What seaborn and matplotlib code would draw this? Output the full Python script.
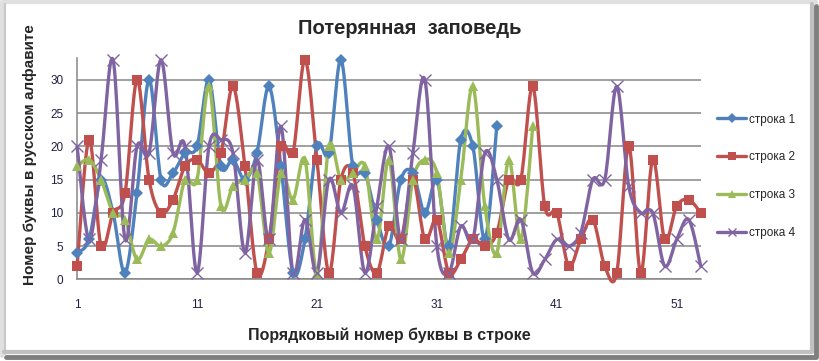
import numpy as np
import pandas as pd
import matplotlib
matplotlib.use("Agg")
import matplotlib.pyplot as plt
from matplotlib.lines import Line2D
import seaborn as sns

# letter numbers (position in the Russian alphabet) for each line of text
row1 = [4, 6, 15, 10, 1, 13, 30, 15, 16, 19, 20, 30, 17, 18, 15, 19, 29, 17, 1, 6,
        20, 19, 33, 17, 16, 9, 5, 15, 16, 10, 15, 5, 21, 20, 6, 23]
row2 = [2, 21, 5, 10, 13, 30, 15, 10, 12, 17, 18, 16, 19, 29, 17, 1, 6, 20, 19, 33,
        18, 1, 15, 16, 5, 1, 8, 6, 15, 6, 9, 1, 3, 6, 5, 7, 15, 15, 29, 11,
        10, 2, 6, 9, 2, 1, 20, 1, 18, 6, 11, 12, 10]
row3 = [17, 18, 15, 10, 9, 3, 6, 5, 7, 15, 15, 29, 11, 14, 15, 16, 4, 16, 12, 18,
        1, 20, 15, 16, 17, 6, 18, 3, 15, 18, 16, 4, 15, 29, 11, 4, 18, 6, 23]
row4 = [20, 6, 18, 33, 6, 20, 19, 33, 19, 20, 1, 20, 21, 19, 4, 18, 6, 23, 1, 9,
        1, 15, 10, 14, 1, 11, 20, 6, 19, 30, 5, 1, 8, 6, 19, 15, 6, 9, 1, 3,
        6, 5, 7, 15, 15, 29, 14, 10, 10, 2, 6, 9, 2]

names = ["строка 1", "строка 2", "строка 3", "строка 4"]
series = [row1, row2, row3, row4]
colors = ["#4F81BD", "#C0504D", "#9BBB59", "#8064A2"]
markers = ["D", "s", "^", "x"]
msizes = [6, 7.5, 7.5, 8]
xticks = [1, 11, 21, 31, 41, 51]


def smooth(y, n=16):
    # excel-like smoothed line (catmull-rom through the points)
    x = np.arange(1, len(y) + 1, dtype=float)
    p = np.column_stack([x, np.asarray(y, dtype=float)])
    p = np.vstack([p[0], p, p[-1]])
    out = []
    t = np.linspace(0, 1, n, endpoint=False)[:, None]
    for i in range(1, len(p) - 2):
        b0 = p[i]
        b1 = p[i] + (p[i + 1] - p[i - 1]) / 6
        b2 = p[i + 1] - (p[i + 2] - p[i]) / 6
        b3 = p[i + 1]
        out.append((1 - t) ** 3 * b0 + 3 * (1 - t) ** 2 * t * b1 + 3 * (1 - t) * t ** 2 * b2 + t ** 3 * b3)
    out.append(p[-2][None, :])
    return np.vstack(out)


sns.set_style("white")
plt.rcParams["font.family"] = ["Liberation Sans", "DejaVu Sans"]

fig = plt.figure(figsize=(8.2, 3.61), dpi=100)
ax = fig.add_axes([0.094, 0.226, 0.7605, 0.612])

frames = []
for name, vals in zip(names, series):
    c = smooth(vals)
    frames.append(pd.DataFrame({"x": c[:, 0], "y": c[:, 1], "row": name}))
curves = pd.concat(frames, ignore_index=True)

sns.lineplot(data=curves, x="x", y="y", hue="row", palette=colors, sort=False,
             estimator=None, linewidth=2.4, legend=False, ax=ax, zorder=3)
for ln in ax.lines:
    ln.set_clip_on(False)
for vals, col, m, ms in zip(series, colors, markers, msizes):
    xs = np.arange(1, len(vals) + 1)
    ax.plot(xs, vals, ls="none", marker=m, ms=ms, mew=1.0 if m == "x" else 0,
            color=col, zorder=4, clip_on=False)

ax.set_xlim(1, 53)
ax.set_ylim(0, 33.2)
ax.set_xticks(xticks)
ax.set_yticks(range(0, 31, 5))
ax.tick_params(axis="y", length=0, labelsize=8.5, colors="#1F1F3F", pad=10)
ax.tick_params(axis="x", length=0, labelsize=8.5, colors="#1F1F3F", pad=14)
ax.yaxis.grid(True, color="#868686", lw=1.1)
ax.set_axisbelow(True)
for s in ["top", "right"]:
    ax.spines[s].set_visible(False)
for s in ["left", "bottom"]:
    ax.spines[s].set_color("#868686")
    ax.spines[s].set_linewidth(1.1)

ax.set_xlabel("Порядковый номер буквы в строке", fontsize=11.5, fontweight="bold", labelpad=12)
ax.set_ylabel("Номер буквы в русском алфавите", fontsize=11, fontweight="bold")
ax.yaxis.set_label_coords(-0.064, 0.563)
fig.text(0.5, 0.922, "Потерянная  заповедь", ha="center", va="center", fontsize=14.5, fontweight="bold")

handles = [Line2D([], [], color=col, lw=2.4, marker=m, ms=ms * 0.8, mew=1 if m == "x" else 0)
           for col, m, ms in zip(colors, markers, msizes)]
fig.legend(handles, names, loc="upper left", bbox_to_anchor=(0.862, 0.715), frameon=False,
           fontsize=8.5, labelspacing=2.2, handlelength=2.4, handletextpad=0.3)

# bevelled chart border
W, H = 820, 361
def fline(xs, ys, col, lw):
    fig.add_artist(Line2D(np.array(xs) / W, 1 - np.array(ys) / H, color=col, lw=lw, transform=fig.transFigure))

fline([2, 2, 816], [356, 2, 2], "#E0E0E0", 3)
fline([5, 5], [354, 4], "#C8C8C8", 1.5)
fline([4, 812, 812], [352, 352, 4], "#C0C0C0", 3)
fline([6, 816, 816], [356.5, 356.5, 6], "#7F7F7F", 3.5)

fig.savefig("out.png", dpi=100)
